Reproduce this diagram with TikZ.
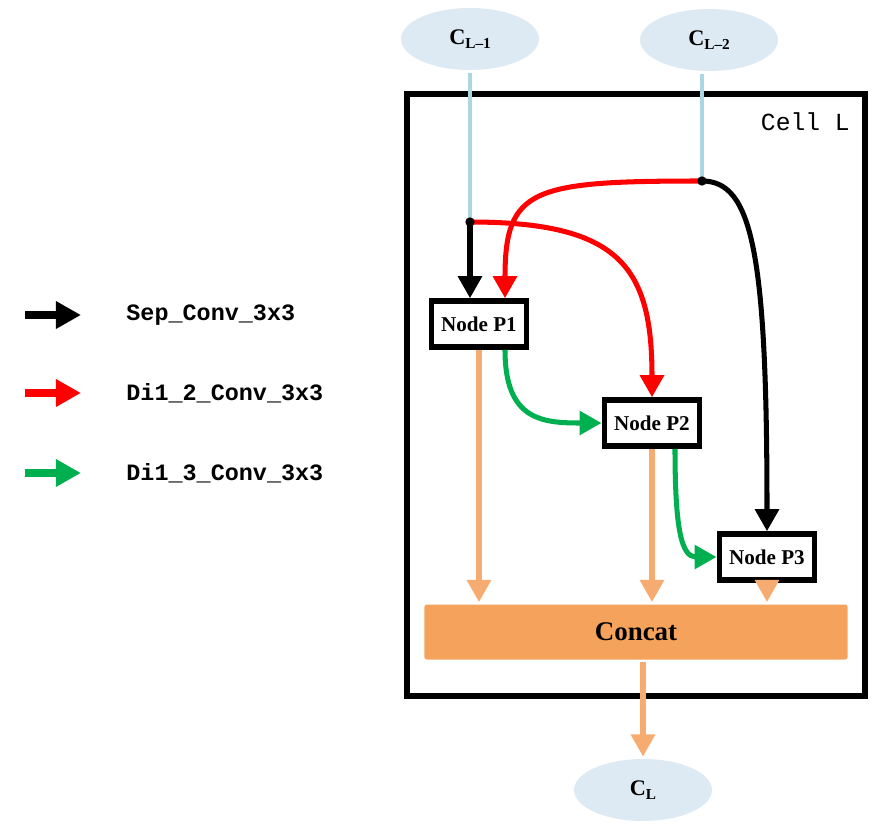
\documentclass[tikz,border=0pt]{standalone}
\usepackage{fontspec}
\setmainfont{Liberation Serif}
\newfontfamily\monofont{Liberation Mono}
\usetikzlibrary{positioning,arrows.meta,shapes.geometric}
\definecolor{cellblue}{RGB}{221,234,243}
\definecolor{linkblue}{RGB}{170,215,225}
\definecolor{opgreen}{RGB}{0,176,80}
\definecolor{catorange}{RGB}{245,163,92}
\definecolor{arrorange}{RGB}{246,172,112}
\newcommand{\subl}[1]{\raisebox{-0.15em}{\fontsize{13}{13}\selectfont #1}}

\begin{document}
\begin{tikzpicture}[x=0.03cm, y=-0.03cm, line width=4.3pt,
  >={Triangle[length=0.66cm, width=0.7cm]},
  state/.style={ellipse, fill=cellblue, minimum width=4.14cm, minimum height=1.86cm,
    font=\fontsize{19}{19}\selectfont\bfseries},
  pnode/.style={draw, line width=4.8pt, fill=white, minimum width=2.86cm, minimum height=1.38cm,
    font=\fontsize{18}{18}\selectfont\bfseries},
  link/.style={linkblue, line width=4pt},
  orange/.style={arrorange, ->},
  legtext/.style={anchor=west, font=\monofont\bfseries\fontsize{20}{20}\selectfont}]

\useasboundingbox (0,0) rectangle (885,832);

% Legend
\foreach \col/\lab/\yy [count=\i] in {black/Sep\_Conv\_3x3/315, red/Di1\_2\_Conv\_3x3/393, opgreen/Di1\_3\_Conv\_3x3/473} {
    \coordinate (ls\i) at (25,\yy);
    \coordinate (le\i) at (81,\yy);
    \node[legtext] (lt\i) at (120,\yy) {\lab};
    \draw[\col, line width=6pt, -{Triangle[length=0.75cm, width=0.78cm]}] (ls\i) -- (le\i);
}

% Cell frame
\draw[line width=5pt] (407,94) rectangle (865,696);
\node[anchor=east, font=\monofont\fontsize{21}{21}\selectfont] (celllbl) at (856,122) {Cell L};

% Input / output states
\node[state] (cl1) at (470,39) {C\subl{L--1}};
\node[state] (cl2) at (709,40) {C\subl{L--2}};
\node[state] (cl) at (643,790) {C\subl{L}};

% Split points
\coordinate (dotA) at (470,222);
\coordinate (dotB) at (702,181);
\draw[link] (cl1.south) -- (dotA);
\draw[link] (dotB |- cl2.south) -- (dotB);

% Intermediate nodes
\node[pnode] (p1) at (479,324) {Node P1};
\node[pnode] (p2) at (652,423) {Node P2};
\node[pnode] (p3) at (767,557) {Node P3};

% Concat
\node[fill=catorange, rounded corners=2pt, minimum width=12.69cm, minimum height=1.65cm,
  font=\fontsize{23}{23}\selectfont\bfseries] (cat) at (636,632) {Concat};

% Operations
\draw[->, red] (dotA) .. controls +(150,0) and +(0,-130) .. (p2.north);
\draw[->, red] (dotB) .. controls +(-170,0) and +(0,-110) .. ([xshift=0.78cm]p1.north);
\draw[->] (dotA) -- (dotA |- p1.north);
\draw[->] (dotB) .. controls +(50,0) and +(0,-280) .. (p3.north);
\draw[->, opgreen] ([xshift=0.78cm]p1.south) .. controls +(0,70) and +(-60,0) .. (p2.west);
\draw[->, opgreen] ([xshift=0.69cm]p2.south) .. controls +(0,80) and +(-35,0) .. (p3.west);
\fill (dotA) circle[radius=0.14cm];
\fill (dotB) circle[radius=0.14cm];

% To concat and output
\foreach \p in {p1,p2,p3} {
    \draw[orange] (\p.south) -- (\p.south |- cat.north);
}
\draw[orange] (cl.north |- cat.south) -- (cl.north);

\end{tikzpicture}
\end{document}
